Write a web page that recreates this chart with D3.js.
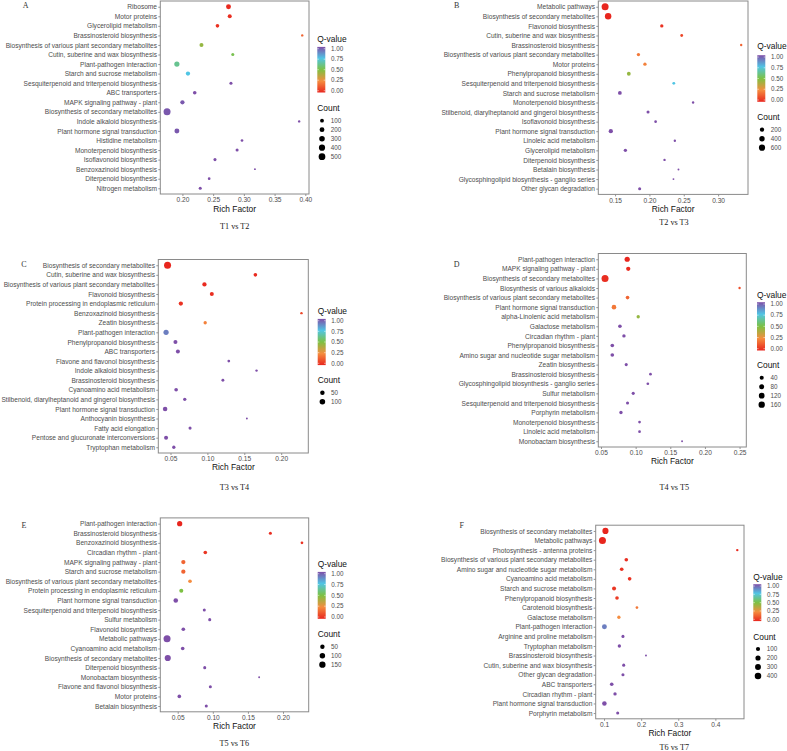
<!DOCTYPE html>
<html><head><meta charset="utf-8">
<script src="https://cdnjs.cloudflare.com/ajax/libs/d3/7.8.5/d3.min.js"></script>
<style>body{margin:0;background:#fff}svg{display:block}</style>
</head><body>
<svg id="chart" width="787" height="751"></svg>
<script>
// ---------------- DATA ----------------
const termsA = ["Ribosome","Motor proteins","Glycerolipid metabolism","Brassinosteroid biosynthesis","Biosynthesis of various plant secondary metabolites","Cutin, suberine and wax biosynthesis","Plant-pathogen interaction","Starch and sucrose metabolism","Sesquiterpenoid and triterpenoid biosynthesis","ABC transporters","MAPK signaling pathway - plant","Biosynthesis of secondary metabolites","Indole alkaloid biosynthesis","Plant hormone signal transduction","Histidine metabolism","Monoterpenoid biosynthesis","Isoflavonoid biosynthesis","Benzoxazinoid biosynthesis","Diterpenoid biosynthesis","Nitrogen metabolism"];
const richA = [0.275,0.277,0.257,0.395,0.231,0.282,0.191,0.209,0.279,0.220,0.200,0.175,0.390,0.191,0.297,0.289,0.253,0.318,0.2435,0.229];
const qA = [0.01,0.02,0.03,0.15,0.45,0.52,0.62,0.75,1,1,0.98,0.98,1,0.98,1,1,1,1,1,1];
const countA = [214,116,86,30,116,53,251,141,53,86,141,557,30,214,38,53,53,25,38,53];
const ticksA = [0.20,0.25,0.30,0.35,0.40];
const legendCountA = [100,200,300,400,500];

const termsB = ["Metabolic pathways","Biosynthesis of secondary metabolites","Flavonoid biosynthesis","Cutin, suberine and wax biosynthesis","Brassinosteroid biosynthesis","Biosynthesis of various plant secondary metabolites","Motor proteins","Phenylpropanoid biosynthesis","Sesquiterpenoid and triterpenoid biosynthesis","Starch and sucrose metabolism","Monoterpenoid biosynthesis","Stilbenoid, diarylheptanoid and gingerol biosynthesis","Isoflavonoid biosynthesis","Plant hormone signal transduction","Linoleic acid metabolism","Glycerolipid metabolism","Diterpenoid biosynthesis","Betalain biosynthesis","Glycosphingolipid biosynthesis - ganglio series","Other glycan degradation"];
const richB = [0.1355,0.1399,0.218,0.247,0.3336,0.184,0.1935,0.170,0.2355,0.157,0.2636,0.198,0.209,0.1438,0.237,0.165,0.222,0.2423,0.235,0.1858];
const qB = [0,0,0.03,0.08,0.15,0.2,0.22,0.45,0.75,1,1,1,1,1,1,1,1,1,1,1];
const countB = [850,675,78,41,19,78,78,129,41,129,19,54,30,194,19,78,19,12,12,54];
const ticksB = [0.15,0.20,0.25,0.30];
const legendCountB = [200,400,600];

const termsC = ["Biosynthesis of secondary metabolites","Cutin, suberine and wax biosynthesis","Biosynthesis of various plant secondary metabolites","Flavonoid biosynthesis","Protein processing in endoplasmic reticulum","Benzoxazinoid biosynthesis","Zeatin biosynthesis","Plant-pathogen interaction","Phenylpropanoid biosynthesis","ABC transporters","Flavone and flavonol biosynthesis","Indole alkaloid biosynthesis","Brassinosteroid biosynthesis","Cyanoamino acid metabolism","Stilbenoid, diarylheptanoid and gingerol biosynthesis","Plant hormone signal transduction","Anthocyanin biosynthesis","Fatty acid elongation","Pentose and glucuronate interconversions","Tryptophan metabolism"];
const richC = [0.046,0.165,0.096,0.106,0.064,0.2275,0.097,0.044,0.0567,0.060,0.129,0.1666,0.121,0.0576,0.0693,0.0427,0.1535,0.0765,0.044,0.0545];
const qC = [0,0.01,0.01,0.02,0.03,0.08,0.22,0.9,1,1,1,1,1,1,1,1,1,1,1,1];
const countC = [190,25,44,35,44,5,18,82,35,35,8,5,10,25,18,54,3,13,35,18];
const ticksC = [0.05,0.10,0.15,0.20];
const legendCountC = [50,100];

const termsD = ["Plant-pathogen interaction","MAPK signaling pathway - plant","Biosynthesis of secondary metabolites","Biosynthesis of various alkaloids","Biosynthesis of various plant secondary metabolites","Plant hormone signal transduction","alpha-Linolenic acid metabolism","Galactose metabolism","Circadian rhythm - plant","Phenylpropanoid biosynthesis","Amino sugar and nucleotide sugar metabolism","Zeatin biosynthesis","Brassinosteroid biosynthesis","Glycosphingolipid biosynthesis - ganglio series","Sulfur metabolism","Sesquiterpenoid and triterpenoid biosynthesis","Porphyrin metabolism","Monoterpenoid biosynthesis","Linoleic acid metabolism","Monobactam biosynthesis"];
const richD = [0.0878,0.0893,0.0558,0.25,0.0883,0.0687,0.1037,0.0773,0.0831,0.0663,0.0663,0.0864,0.1214,0.1176,0.0965,0.0883,0.0788,0.1056,0.1056,0.167];
const qD = [0,0.01,0.02,0.1,0.15,0.2,0.45,1,1,1,1,1,1,1,1,1,1,1,1,1];
const countD = [91,48,210,5,27,60,20,27,20,27,27,14,8,8,14,14,20,8,8,3];
const ticksD = [0.05,0.10,0.15,0.20,0.25];
const legendCountD = [40,80,120,160];

const termsE = ["Plant-pathogen interaction","Brassinosteroid biosynthesis","Benzoxazinoid biosynthesis","Circadian rhythm - plant","MAPK signaling pathway - plant","Starch and sucrose metabolism","Biosynthesis of various plant secondary metabolites","Protein processing in endoplasmic reticulum","Plant hormone signal transduction","Sesquiterpenoid and triterpenoid biosynthesis","Sulfur metabolism","Flavonoid biosynthesis","Metabolic pathways","Cyanoamino acid metabolism","Biosynthesis of secondary metabolites","Diterpenoid biosynthesis","Monobactam biosynthesis","Flavone and flavonol biosynthesis","Motor proteins","Betalain biosynthesis"];
const richE = [0.0528,0.182,0.227,0.0893,0.058,0.058,0.0675,0.0551,0.0472,0.0879,0.0956,0.058,0.0348,0.0571,0.0358,0.0885,0.166,0.0965,0.0523,0.0907];
const qE = [0,0.02,0.03,0.04,0.15,0.15,0.25,0.5,1,1,1,1,1,1,1,1,1,1,1,1];
const countE = [87,13,8,26,46,46,26,37,57,13,13,26,200,26,140,13,3,13,26,13];
const ticksE = [0.05,0.10,0.15,0.20];
const legendCountE = [50,100,150];

const termsF = ["Biosynthesis of secondary metabolites","Metabolic pathways","Photosynthesis - antenna proteins","Biosynthesis of various plant secondary metabolites","Amino sugar and nucleotide sugar metabolism","Cyanoamino acid metabolism","Starch and sucrose metabolism","Phenylpropanoid biosynthesis","Carotenoid biosynthesis","Galactose metabolism","Plant-pathogen interaction","Arginine and proline metabolism","Tryptophan metabolism","Brassinosteroid biosynthesis","Cutin, suberine and wax biosynthesis","Other glycan degradation","ABC transporters","Circadian rhythm - plant","Plant hormone signal transduction","Porphyrin metabolism"];
const richF = [0.1038,0.0957,0.459,0.160,0.1476,0.169,0.127,0.135,0.1887,0.140,0.101,0.151,0.1413,0.213,0.153,0.151,0.1207,0.1296,0.101,0.1368];
const qF = [0,0,0.01,0.02,0.03,0.03,0.04,0.05,0.2,0.25,0.9,1,1,1,1,1,1,1,1,1];
const countF = [336,480,10,60,60,60,86,60,17,43,174,30,43,5,30,30,60,43,135,30];
const ticksF = [0.1,0.2,0.3,0.4];
const legendCountF = [100,200,300,400];

const qLegendTicks = [0,0.25,0.5,0.75,1];
const letters = ["A","B","C","D","E","F"];
const comparisons = ["T1 vs T2","T2 vs T3","T3 vs T4","T4 vs T5","T5 vs T6","T6 vs T7"];

// ---------------- STYLE / LAYOUT ----------------
const qStops = [0,0.25,0.5,0.75,1];
const qColors = ["#E8261E","#F58D3F","#7DC143","#50C5E4","#7E4FA8"];
const R_MIN = 0.95, R_MAX = 3.5;
const SANS = "'Liberation Sans', Arial, sans-serif";
const SERIF = "'Liberation Serif', 'Times New Roman', serif";

const layouts = [
  {x0:160.3,x1:309,y0:1,y1:194, lx:317.3, qT:39, l1:48.7, l0:90.7, cT:108, c0:120.7, rfY:208.7, stX:234.7, stY:226, letX:25.7, letY:5, fmt:".2f"},
  {x0:598.3,x1:748,y0:1,y1:194.4, lx:757.3, qT:46, l1:57, l0:100, cT:117, c0:129.7, rfY:208.7, stX:674, stY:222.3, letX:456.7, letY:5.3, fmt:".2f"},
  {x0:158.3,x1:308.3,y0:259.5,y1:453, lx:317.7, qT:311, l1:320.7, l0:363.3, cT:380, c0:392.7, rfY:467, stX:234.5, stY:487.3, letX:24, letY:264, fmt:".2f"},
  {x0:598.3,x1:746.3,y0:253.5,y1:447, lx:757, qT:295, l1:304, l0:348.7, cT:365, c0:377.7, rfY:461.3, stX:674.3, stY:487.3, letX:456.7, letY:264, fmt:".2f"},
  {x0:160.3,x1:308.7,y0:517.9,y1:711.8, lx:317.7, qT:564.3, l1:573.7, l0:617, cT:634, c0:646.7, rfY:725.7, stX:234.3, stY:742.7, letX:24, letY:525, fmt:".2f"},
  {x0:595.7,x1:744,y0:525.2,y1:718.8, lx:753.3, qT:576.7, l1:586, l0:619.3, cT:636.7, c0:649, rfY:732.7, stX:674.3, stY:747.3, letX:461.7, letY:525, fmt:".1f"}
];

const panels = [
  {terms:termsA, rich:richA, q:qA, count:countA, ticks:ticksA, leg:legendCountA},
  {terms:termsB, rich:richB, q:qB, count:countB, ticks:ticksB, leg:legendCountB},
  {terms:termsC, rich:richC, q:qC, count:countC, ticks:ticksC, leg:legendCountC},
  {terms:termsD, rich:richD, q:qD, count:countD, ticks:ticksD, leg:legendCountD},
  {terms:termsE, rich:richE, q:qE, count:countE, ticks:ticksE, leg:legendCountE},
  {terms:termsF, rich:richF, q:qF, count:countF, ticks:ticksF, leg:legendCountF}
];

const svg = d3.select("#chart");
const color = d3.scaleLinear().domain(qStops).range(qColors).interpolate(d3.interpolateRgb);

// gradient
const defs = svg.append("defs");
const grad = defs.append("linearGradient").attr("id","qgrad").attr("x1",0).attr("x2",0).attr("y1",1).attr("y2",0);
d3.range(0,1.0001,0.05).forEach(t => grad.append("stop").attr("offset", t).attr("stop-color", color(t)));

panels.forEach((p, i) => {
  const L = layouts[i];
  const g = svg.append("g");
  const ext = d3.extent(p.rich);
  const pad = (ext[1]-ext[0])*0.05;
  const x = d3.scaleLinear().domain([ext[0]-pad, ext[1]+pad]).range([L.x0, L.x1]);
  const y = d3.scalePoint().domain(p.terms).range([L.y0, L.y1]).padding(0.6);
  const cExt = d3.extent(p.count);
  const norm = d3.scaleLinear().domain(cExt).range([0,1]).clamp(true);
  const rs = d3.scaleLinear().domain([0,1]).range([R_MIN, R_MAX]);
  const r = c => rs(Math.sqrt(norm(c)));

  // y axis
  const ya = g.append("g").attr("transform", `translate(${L.x0},0)`)
    .call(d3.axisLeft(y).tickSize(2).tickPadding(1.3));
  ya.select(".domain").remove();
  ya.selectAll("line").attr("stroke","#4d4d4d").attr("stroke-width",0.6);
  ya.selectAll("text").attr("font-family",SANS).attr("font-size","6.6px").attr("fill","#4d4d4d");

  // x axis
  const xa = g.append("g").attr("transform", `translate(0,${L.y1})`)
    .call(d3.axisBottom(x).tickValues(p.ticks).tickFormat(d3.format(L.fmt)).tickSize(2).tickPadding(1.5));
  xa.select(".domain").remove();
  xa.selectAll("line").attr("stroke","#4d4d4d").attr("stroke-width",0.6);
  xa.selectAll("text").attr("font-family",SANS).attr("font-size","6.6px").attr("fill","#4d4d4d");

  // border
  g.append("rect").attr("x",L.x0).attr("y",L.y0).attr("width",L.x1-L.x0).attr("height",L.y1-L.y0)
    .attr("fill","none").attr("stroke","#8a8a8a").attr("stroke-width",1);

  // points
  g.append("g").selectAll("circle").data(p.terms.map((t,k)=>({t, v:p.rich[k], q:p.q[k], c:p.count[k]})))
    .join("circle")
    .attr("cx", d => x(d.v)).attr("cy", d => y(d.t)).attr("r", d => r(d.c))
    .attr("fill", d => color(d.q));

  // axis title
  g.append("text").attr("x",(L.x0+L.x1)/2).attr("y",L.rfY).attr("dy","0.35em").attr("text-anchor","middle")
    .attr("font-family",SANS).attr("font-size","8.4px").attr("fill","#111").text("Rich Factor");
  // comparison subtitle
  g.append("text").attr("x",L.stX).attr("y",L.stY).attr("dy","0.35em").attr("text-anchor","middle")
    .attr("font-family",SERIF).attr("font-size","8.2px").attr("fill","#222").text(comparisons[i]);
  // panel letter
  g.append("text").attr("x",L.letX).attr("y",L.letY).attr("dy","0.35em").attr("text-anchor","middle")
    .attr("font-family",SERIF).attr("font-size","8px").attr("fill","#333").text(letters[i]);

  // Q-value legend
  const lg = g.append("g");
  lg.append("text").attr("x",L.lx).attr("y",L.qT).attr("dy","0.35em")
    .attr("font-family",SANS).attr("font-size","8.4px").attr("fill","#111").text("Q-value");
  const qy = d3.scaleLinear().domain([0,1]).range([L.l0, L.l1]);
  lg.append("rect").attr("x",L.lx).attr("y",L.l1-1.8).attr("width",8).attr("height",(L.l0-L.l1)+3.6)
    .attr("fill","url(#qgrad)");
  qLegendTicks.forEach(t => {
    lg.append("line").attr("x1",L.lx).attr("x2",L.lx+1.6).attr("y1",qy(t)).attr("y2",qy(t)).attr("stroke","#fff").attr("stroke-width",0.5);
    lg.append("line").attr("x1",L.lx+6.4).attr("x2",L.lx+8).attr("y1",qy(t)).attr("y2",qy(t)).attr("stroke","#fff").attr("stroke-width",0.5);
    lg.append("text").attr("x",L.lx+13.6).attr("y",qy(t)).attr("dy","0.35em")
      .attr("font-family",SANS).attr("font-size","6.3px").attr("fill","#4d4d4d").text(d3.format(".2f")(t));
  });

  // Count legend
  lg.append("text").attr("x",L.lx).attr("y",L.cT).attr("dy","0.35em")
    .attr("font-family",SANS).attr("font-size","8.4px").attr("fill","#111").text("Count");
  p.leg.forEach((c,k) => {
    const cy = L.c0 + k*9;
    lg.append("circle").attr("cx",L.lx+4.7).attr("cy",cy).attr("r",r(c)).attr("fill","#000");
    lg.append("text").attr("x",L.lx+13.4).attr("y",cy).attr("dy","0.35em")
      .attr("font-family",SANS).attr("font-size","6.3px").attr("fill","#4d4d4d").text(c);
  });
});
</script>
</body></html>
